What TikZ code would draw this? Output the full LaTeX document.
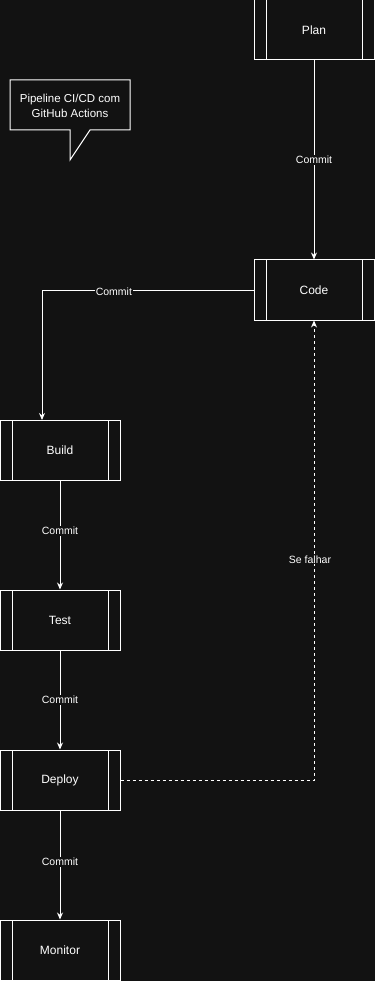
\documentclass[tikz,border=0pt]{standalone}
\usepackage{fontspec}
\setmainfont{Liberation Sans}
\usetikzlibrary{arrows.meta}

\definecolor{bgdark}{HTML}{121212}

\tikzset{
  stage/.style={draw=white, line width=1pt, minimum width=120pt, minimum height=60pt,
    text=white, font=\fontsize{12}{14}\selectfont, inner sep=0pt,
    path picture={
      \draw[white, line width=1pt] ([xshift=12pt]path picture bounding box.north west) -- ([xshift=12pt]path picture bounding box.south west);
      \draw[white, line width=1pt] ([xshift=-12pt]path picture bounding box.north east) -- ([xshift=-12pt]path picture bounding box.south east);
    }},
  flow/.style={white, line width=1pt, -{Stealth[length=7pt,width=6pt]}},
  lbl/.style={fill=bgdark, text=white, font=\fontsize{10.5}{12}\selectfont, inner sep=1pt}
}

\begin{document}
\begin{tikzpicture}[x=1pt, y=-1pt]
  % background
  \fill[bgdark] (0,0) rectangle (375,981);
  \useasboundingbox (0,0) rectangle (375,981);

  % note bubble
  \draw[white, line width=1pt] (10,80) -- (130,80) -- (130,130) -- (90,130) -- (70,160) -- (70,130) -- (10,130) -- cycle;
  \node[text=white, align=center, font=\fontsize{11.5}{15}\selectfont] (note) at (70,106) {Pipeline CI/CD com\\GitHub Actions};

  % stages
  \node[stage] (plan) at (314,30) {Plan};
  \node[stage] (code) at (314,290) {Code};
  \node[stage] (build) at (60,450) {Build};
  \node[stage] (test) at (60,620) {Test};
  \node[stage] (deploy) at (60,780) {Deploy};
  \node[stage] (monitor) at (60,950) {Monitor};

  \coordinate (buildin) at (42,420);

  % main flow
  \draw[flow] (plan) -- node[lbl] {Commit} (code);
  \draw[flow] (code.west) -| node[lbl, pos=0.33, yshift=-2pt] {Commit} (buildin);
  \draw[flow] (build) -- node[lbl, pos=0.46] {Commit} (test);
  \draw[flow] (test) -- node[lbl] {Commit} (deploy);
  \draw[flow] (deploy) -- node[lbl, pos=0.47] {Commit} (monitor);

  % rollback when it fails
  \draw[flow, dashed, dash pattern=on 3pt off 3pt] (deploy.east) -| node[lbl, pos=0.74, xshift=-4pt] {Se falhar} (code.south);
\end{tikzpicture}
\end{document}
